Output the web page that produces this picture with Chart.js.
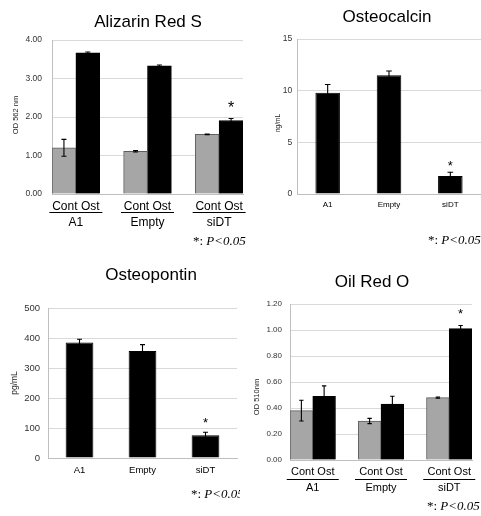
<!DOCTYPE html>
<html><head><meta charset="utf-8">
<script src="https://cdn.jsdelivr.net/npm/chart.js@4"></script>
<style>
html,body{margin:0;padding:0;background:#fff;overflow:hidden;width:481px;height:516px;}
canvas{position:absolute;left:0;top:0;}
</style></head><body>
<canvas id="c1" width="481" height="516"></canvas>
<canvas id="c2" width="481" height="516"></canvas>
<canvas id="c3" width="481" height="516"></canvas>
<canvas id="c4" width="481" height="516"></canvas>
<script>
// ---- data ----
const groups = ['A1', 'Empty', 'siDT'];
const series = ['Cont', 'Ost'];
const sigText = 'P<0.05';

// Alizarin Red S (OD 562 nm)
const arsCont    = [1.20, 1.11, 1.55];
const arsContErr = [0.22, 0.02, 0.01];
const arsOst     = [3.67, 3.33, 1.91];
const arsOstErr  = [0.02, 0.02, 0.05];
const arsOstSig  = [false, false, true];
const arsTicks   = [0, 1, 2, 3, 4];

// Osteocalcin (ng/mL)
const ocVals = [9.8, 11.5, 1.75];
const ocErr  = [0.8, 0.4, 0.35];
const ocSig  = [false, false, true];
const ocTicks = [0, 5, 10, 15];

// Osteopontin (pg/mL)
const opnVals = [385, 357, 76];
const opnErr  = [11, 21, 10];
const opnSig  = [false, false, true];
const opnTicks = [0, 100, 200, 300, 400, 500];

// Oil Red O (OD 510nm)
const oroCont    = [0.38, 0.30, 0.48];
const oroContErr = [0.08, 0.02, 0.005];
const oroOst     = [0.49, 0.43, 1.01];
const oroOstErr  = [0.08, 0.06, 0.025];
const oroOstSig  = [false, false, true];
const oroTicks   = [0, 0.2, 0.4, 0.6, 0.8, 1.0, 1.2];

// ---- styles ----
const SANS = '"Liberation Sans", Arial, sans-serif';
const SERIF = '"Liberation Serif", "Times New Roman", serif';
const GRAY = '#a6a6a6', GRAY_EDGE = '#5e5e5e', GRID = '#d9d9d9', AXIS = '#bfbfbf', TICK = '#333';
Chart.defaults.font.family = SANS;
Chart.defaults.color = '#000';

function fixAxis(size, horizontal) {
  return function (scale) {
    if (horizontal) scale.height = size; else scale.width = size;
    scale.paddingLeft = scale.paddingRight = scale.paddingTop = scale.paddingBottom = 0;
  };
}
function setTicks(values) {
  return function (scale) { scale.ticks = values.map(v => ({ value: v })); };
}

const errPlugin = {
  id: 'errs',
  afterDatasetsDraw(chart, args, o) {
    const ctx = chart.ctx, ys = chart.scales.y;
    chart.data.datasets.forEach((ds, di) => {
      const meta = chart.getDatasetMeta(di);
      meta.data.forEach((bar, i) => {
        const raw = ds.data[i];
        const v = (typeof raw === 'object') ? raw.y : raw;
        const e = ds.errors[i];
        const top = ys.getPixelForValue(v + e), bot = ys.getPixelForValue(v - e);
        ctx.save();
        ctx.strokeStyle = '#000'; ctx.lineWidth = 1.1;
        ctx.beginPath();
        ctx.moveTo(bar.x, top); ctx.lineTo(bar.x, bot);
        ctx.moveTo(bar.x - o.cap, top); ctx.lineTo(bar.x + o.cap, top);
        ctx.moveTo(bar.x - o.cap, bot); ctx.lineTo(bar.x + o.cap, bot);
        ctx.stroke();
        if (ds.sig && ds.sig[i]) {
          ctx.fillStyle = '#000';
          ctx.font = o.starSize + 'px ' + SANS;
          ctx.textAlign = 'center'; ctx.textBaseline = 'alphabetic';
          const cy = top - o.starGap;
          ctx.fillText('*', bar.x, cy + 0.57 * o.starSize);
        }
        ctx.restore();
      });
    });
  }
};

const deco = {
  id: 'deco',
  afterDraw(chart, args, o) {
    const ctx = chart.ctx;
    ctx.save();
    if (o.clipRight) { ctx.beginPath(); ctx.rect(0, 0, o.clipRight, chart.height); ctx.clip(); }
    ctx.fillStyle = '#000';
    ctx.textAlign = 'center'; ctx.textBaseline = 'middle';
    ctx.font = o.titleSize + 'px ' + SANS;
    ctx.fillText(o.title, o.titleX, o.titleY);
    ctx.save();
    ctx.translate(o.yTitleX, o.yTitleY); ctx.rotate(-Math.PI / 2);
    ctx.font = o.yTitleSize + 'px ' + SANS;
    ctx.fillStyle = '#222';
    ctx.fillText(o.yTitle, 0, 0);
    ctx.restore();
    ctx.textAlign = 'left'; ctx.textBaseline = 'middle';
    ctx.font = o.footSize + 'px ' + SERIF;
    const a = '*: ';
    ctx.fillText(a, o.footX, o.footY);
    const w = ctx.measureText(a).width;
    ctx.font = 'italic ' + o.footSize + 'px ' + SERIF;
    ctx.fillText(sigText, o.footX + w, o.footY);
    if (o.underline) {
      const xs = chart.scales.x;
      ctx.strokeStyle = '#000'; ctx.lineWidth = 1;
      xs.ticks.forEach(t => {
        const px = xs.getPixelForValue(t.value);
        ctx.beginPath();
        ctx.moveTo(px - o.underline.half, o.underline.y + 0.5);
        ctx.lineTo(px + o.underline.half, o.underline.y + 0.5);
        ctx.stroke();
      });
    }
    ctx.restore();
  }
};

function groupedChart(id, cont, contErr, ost, ostErr, ostSig, yTicks, fmt, L) {
  return new Chart(document.getElementById(id), {
    type: 'bar',
    data: { datasets: [
      { label: series[0], data: cont.map((v, i) => ({ x: i * 3 + 0.5, y: v })), errors: contErr,
        backgroundColor: GRAY, borderColor: GRAY_EDGE, borderWidth: 1 },
      { label: series[1], data: ost.map((v, i) => ({ x: i * 3 + 1.5, y: v })), errors: ostErr, sig: ostSig,
        backgroundColor: '#000', borderColor: '#000', borderWidth: 1 }
    ]},
    options: {
      responsive: false, animation: false, devicePixelRatio: 1,
      layout: { padding: L.padding },
      datasets: { bar: { grouped: false, barPercentage: 1, categoryPercentage: 1 } },
      plugins: { legend: { display: false }, tooltip: { enabled: false },
        errs: L.errs, deco: L.deco },
      scales: {
        x: { type: 'linear', min: 0, max: groups.length * 3 - 1, offset: false,
          grid: { display: false, drawTicks: false, offset: false }, border: { color: AXIS },
          afterBuildTicks: setTicks(groups.map((g, i) => i * 3 + 1)),
          ticks: { autoSkip: false, maxRotation: 0, padding: L.xPad, color: '#000',
            font: { size: L.xFont, lineHeight: L.xLine },
            callback: (v, i) => [series.join(' '), groups[i]] },
          afterFit: fixAxis(L.xH, true) },
        y: { min: yTicks[0], max: yTicks[yTicks.length - 1],
          afterBuildTicks: setTicks(yTicks),
          grid: { color: GRID, drawTicks: false }, border: { color: AXIS },
          ticks: { padding: L.yPad, color: TICK, font: { size: L.yFont }, callback: v => v.toFixed(fmt) },
          afterFit: fixAxis(L.yW, false) }
      }
    },
    plugins: [errPlugin, deco]
  });
}

function singleChart(id, vals, err, sig, yTicks, L) {
  return new Chart(document.getElementById(id), {
    type: 'bar',
    data: { labels: groups, datasets: [
      { label: 'value', data: vals, errors: err, sig: sig,
        backgroundColor: '#000', borderColor: '#000', borderWidth: 1,
        barPercentage: L.barPct, categoryPercentage: 1 }
    ]},
    options: {
      responsive: false, animation: false, devicePixelRatio: 1,
      layout: { padding: L.padding },
      plugins: { legend: { display: false }, tooltip: { enabled: false },
        errs: L.errs, deco: L.deco },
      scales: {
        x: { grid: { display: false, drawTicks: false }, border: { color: AXIS },
          ticks: { padding: L.xPad, color: '#000', font: { size: L.xFont } },
          afterFit: fixAxis(L.xH, true) },
        y: { min: yTicks[0], max: yTicks[yTicks.length - 1],
          afterBuildTicks: setTicks(yTicks),
          grid: { color: GRID, drawTicks: false }, border: { color: AXIS },
          ticks: { padding: L.yPad, color: TICK, font: { size: L.yFont } },
          afterFit: fixAxis(L.yW, false) }
      }
    },
    plugins: [errPlugin, deco]
  });
}

// Panel 1: Alizarin Red S  (plot 52..243 x 40..194)
groupedChart('c1', arsCont, arsContErr, arsOst, arsOstErr, arsOstSig, arsTicks, 2, {
  padding: { left: 4, top: 40, right: 238, bottom: 282 }, yW: 48, xH: 40,
  xPad: 4.5, xFont: 12, xLine: 1.333, yPad: 10, yFont: 8.5,
  errs: { cap: 2.5, starSize: 16, starGap: 14.7 },
  deco: { title: 'Alizarin Red S', titleX: 148, titleY: 22, titleSize: 17,
    yTitle: 'OD 562 nm', yTitleX: 16, yTitleY: 115, yTitleSize: 7.5,
    footX: 193, footY: 242, footSize: 13, underline: { y: 212, half: 26.5 } }
});

// Panel 2: Osteocalcin (plot 297..483 x 39..194)
singleChart('c2', ocVals, ocErr, ocSig, ocTicks, {
  padding: { left: 257, top: 39, right: -2, bottom: 292 }, yW: 40, xH: 30,
  barPct: 0.4, xPad: 6.2, xFont: 8, yPad: 4.7, yFont: 8.5,
  errs: { cap: 2.8, starSize: 13, starGap: 10 },
  deco: { title: 'Osteocalcin', titleX: 387, titleY: 17, titleSize: 17,
    yTitle: 'ng/mL', yTitleX: 278, yTitleY: 123, yTitleSize: 6.5,
    footX: 428, footY: 241, footSize: 13 }
});

// Panel 3: Osteopontin (plot 48..237 x 308..458)
singleChart('c3', opnVals, opnErr, opnSig, opnTicks, {
  padding: { left: 4, top: 308, right: 244, bottom: 28 }, yW: 44, xH: 30,
  barPct: 0.44, xPad: 7, xFont: 9.5, yPad: 8, yFont: 9.5,
  errs: { cap: 2.5, starSize: 13, starGap: 13 },
  deco: { title: 'Osteopontin', titleX: 151, titleY: 275, titleSize: 17,
    yTitle: 'pg/mL', yTitleX: 15, yTitleY: 383, yTitleSize: 8.5,
    footX: 191, footY: 495, footSize: 13, clipRight: 240 }
});

// Panel 4: Oil Red O (plot 290..472 x 304..460)
groupedChart('c4', oroCont, oroContErr, oroOst, oroOstErr, oroOstSig, oroTicks, 2, {
  padding: { left: 250, top: 304, right: 9, bottom: 16 }, yW: 40, xH: 40,
  xPad: 3.5, xFont: 11, xLine: 1.5, yPad: 8, yFont: 8,
  errs: { cap: 2.2, starSize: 13, starGap: 15 },
  deco: { title: 'Oil Red O', titleX: 372, titleY: 282, titleSize: 17,
    yTitle: 'OD 510nm', yTitleX: 257, yTitleY: 397, yTitleSize: 7.5,
    footX: 427, footY: 507, footSize: 13, underline: { y: 479, half: 26 } }
});
</script>
</body></html>
